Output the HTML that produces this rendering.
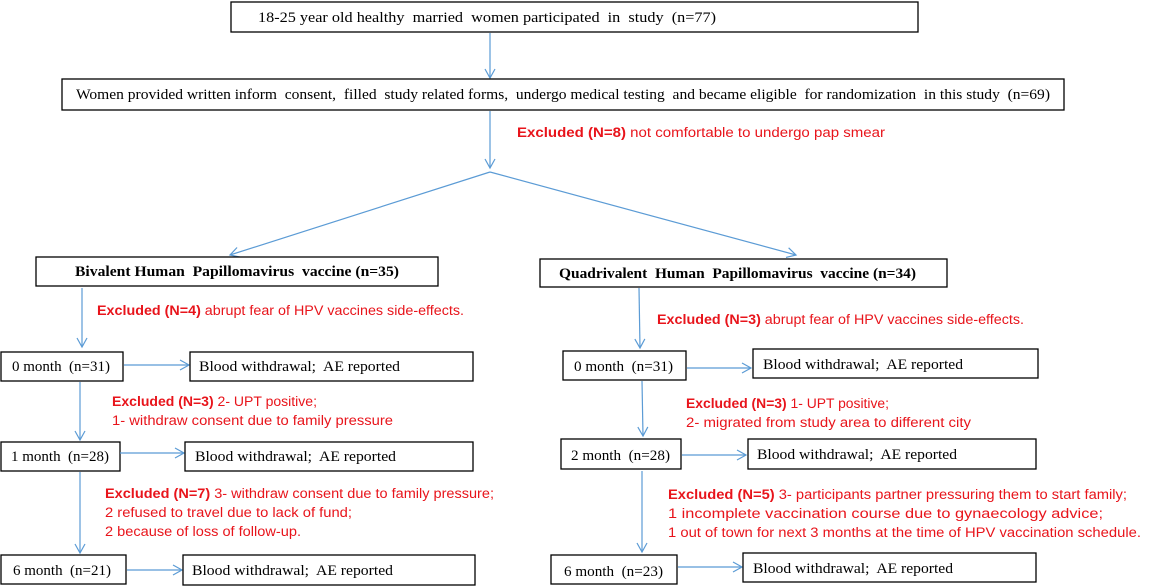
<!DOCTYPE html>
<html><head><meta charset="utf-8"><style>
html,body{margin:0;padding:0;background:#fff;}
svg{display:block;}
text{white-space:pre;}
.s{font-family:"Liberation Serif",serif;font-size:15px;fill:#000;}
.b{font-family:"Liberation Serif",serif;font-size:15px;font-weight:bold;fill:#000;}
.r{font-family:"Liberation Sans",sans-serif;font-size:13.5px;fill:#e8141b;}
.r tspan.h{font-weight:bold;}
rect{fill:#fff;stroke:#000;stroke-width:1.3;}
.l{stroke:#5b9bd5;stroke-width:1.2;fill:none;}
</style></head><body>
<svg width="1165" height="588" viewBox="0 0 1165 588">
<defs><marker id="a" markerWidth="12" markerHeight="12" refX="10" refY="6" orient="auto" markerUnits="userSpaceOnUse"><path d="M1,1 L10,6 L1,11" fill="none" stroke="#5b9bd5" stroke-width="1.2"/></marker></defs>
<rect x="231" y="2" width="687" height="30"/>
<text class="s" x="258" y="22" textLength="458" lengthAdjust="spacingAndGlyphs">18-25 year old healthy  married  women participated  in  study  (n=77)</text>
<line class="l" x1="490" y1="33" x2="490" y2="78" marker-end="url(#a)"/>
<rect x="62" y="79" width="1002" height="31"/>
<text class="s" x="76" y="99" textLength="974" lengthAdjust="spacingAndGlyphs">Women provided written inform  consent,  filled  study related forms,  undergo medical testing  and became eligible  for randomization  in this study  (n=69)</text>
<line class="l" x1="490" y1="111" x2="490" y2="168" marker-end="url(#a)"/>
<text class="r" x="517" y="137" textLength="368" lengthAdjust="spacingAndGlyphs"><tspan class="h">Excluded (N=8)</tspan> not comfortable to undergo pap smear</text>
<line class="l" x1="490" y1="172" x2="230" y2="255" marker-end="url(#a)"/>
<line class="l" x1="490" y1="172" x2="796" y2="255" marker-end="url(#a)"/>

<rect x="36" y="257" width="402" height="29"/>
<text class="b" x="75" y="276" textLength="324" lengthAdjust="spacingAndGlyphs">Bivalent Human  Papillomavirus  vaccine (n=35)</text>
<rect x="540" y="259" width="407" height="28"/>
<text class="b" x="559" y="278" textLength="357" lengthAdjust="spacingAndGlyphs">Quadrivalent  Human  Papillomavirus  vaccine (n=34)</text>

<line class="l" x1="82" y1="288" x2="82" y2="347" marker-end="url(#a)"/>
<text class="r" x="97" y="315" textLength="367" lengthAdjust="spacingAndGlyphs"><tspan class="h">Excluded (N=4)</tspan> abrupt fear of HPV vaccines side-effects.</text>
<rect x="1" y="352" width="122" height="29"/>
<text class="s" x="12" y="371" textLength="98" lengthAdjust="spacingAndGlyphs">0 month  (n=31)</text>
<line class="l" x1="124" y1="365" x2="189" y2="365" marker-end="url(#a)"/>
<rect x="190" y="352" width="283" height="29"/>
<text class="s" x="199" y="371" textLength="201" lengthAdjust="spacingAndGlyphs">Blood withdrawal;  AE reported</text>
<line class="l" x1="80" y1="382" x2="80" y2="440" marker-end="url(#a)"/>
<text class="r" x="112" y="406" textLength="205" lengthAdjust="spacingAndGlyphs"><tspan class="h">Excluded (N=3)</tspan> 2- UPT positive;</text>
<text class="r" x="112" y="425" textLength="281" lengthAdjust="spacingAndGlyphs">1- withdraw consent due to family pressure</text>
<rect x="1" y="442" width="119" height="29"/>
<text class="s" x="11" y="461" textLength="98" lengthAdjust="spacingAndGlyphs">1 month  (n=28)</text>
<line class="l" x1="120" y1="453" x2="184" y2="453" marker-end="url(#a)"/>
<rect x="185" y="442" width="288" height="29"/>
<text class="s" x="195" y="461" textLength="201" lengthAdjust="spacingAndGlyphs">Blood withdrawal;  AE reported</text>
<line class="l" x1="80" y1="472" x2="80" y2="553" marker-end="url(#a)"/>
<text class="r" x="105" y="498" textLength="389" lengthAdjust="spacingAndGlyphs"><tspan class="h">Excluded (N=7)</tspan> 3- withdraw consent due to family pressure;</text>
<text class="r" x="105" y="517" textLength="247" lengthAdjust="spacingAndGlyphs">2 refused to travel due to lack of fund;</text>
<text class="r" x="105" y="536" textLength="196" lengthAdjust="spacingAndGlyphs">2 because of loss of follow-up.</text>
<rect x="1" y="555" width="125" height="29"/>
<text class="s" x="13" y="575" textLength="98" lengthAdjust="spacingAndGlyphs">6 month  (n=21)</text>
<line class="l" x1="127" y1="570" x2="182" y2="570" marker-end="url(#a)"/>
<rect x="183" y="555" width="292" height="30"/>
<text class="s" x="192" y="575" textLength="201" lengthAdjust="spacingAndGlyphs">Blood withdrawal;  AE reported</text>

<line class="l" x1="639" y1="288" x2="640" y2="348" marker-end="url(#a)"/>
<text class="r" x="657" y="324" textLength="367" lengthAdjust="spacingAndGlyphs"><tspan class="h">Excluded (N=3)</tspan> abrupt fear of HPV vaccines side-effects.</text>
<rect x="563" y="351" width="123" height="29"/>
<text class="s" x="574" y="371" textLength="99" lengthAdjust="spacingAndGlyphs">0 month  (n=31)</text>
<line class="l" x1="687" y1="368" x2="751" y2="368" marker-end="url(#a)"/>
<rect x="753" y="349" width="285" height="29"/>
<text class="s" x="763" y="369" textLength="200" lengthAdjust="spacingAndGlyphs">Blood withdrawal;  AE reported</text>
<line class="l" x1="642" y1="381" x2="643" y2="436" marker-end="url(#a)"/>
<text class="r" x="686" y="408" textLength="203" lengthAdjust="spacingAndGlyphs"><tspan class="h">Excluded (N=3)</tspan> 1- UPT positive;</text>
<text class="r" x="686" y="427" textLength="285" lengthAdjust="spacingAndGlyphs">2- migrated from study area to different city</text>
<rect x="561" y="439" width="120" height="30"/>
<text class="s" x="571" y="460" textLength="99" lengthAdjust="spacingAndGlyphs">2 month  (n=28)</text>
<line class="l" x1="682" y1="455" x2="746" y2="455" marker-end="url(#a)"/>
<rect x="748" y="439" width="288" height="30"/>
<text class="s" x="757" y="459" textLength="200" lengthAdjust="spacingAndGlyphs">Blood withdrawal;  AE reported</text>
<line class="l" x1="642" y1="471" x2="642" y2="552" marker-end="url(#a)"/>
<text class="r" x="668" y="499" textLength="459" lengthAdjust="spacingAndGlyphs"><tspan class="h">Excluded (N=5)</tspan> 3- participants partner pressuring them to start family;</text>
<text class="r" x="668" y="518" textLength="435" lengthAdjust="spacingAndGlyphs">1 incomplete vaccination course due to gynaecology advice;</text>
<text class="r" x="668" y="537" textLength="473" lengthAdjust="spacingAndGlyphs">1 out of town for next 3 months at the time of HPV vaccination schedule.</text>
<rect x="551" y="555" width="126" height="29"/>
<text class="s" x="564" y="576" textLength="99" lengthAdjust="spacingAndGlyphs">6 month  (n=23)</text>
<line class="l" x1="678" y1="567" x2="742" y2="567" marker-end="url(#a)"/>
<rect x="743" y="553" width="293" height="29"/>
<text class="s" x="753" y="573" textLength="200" lengthAdjust="spacingAndGlyphs">Blood withdrawal;  AE reported</text>
</svg>
</body></html>
